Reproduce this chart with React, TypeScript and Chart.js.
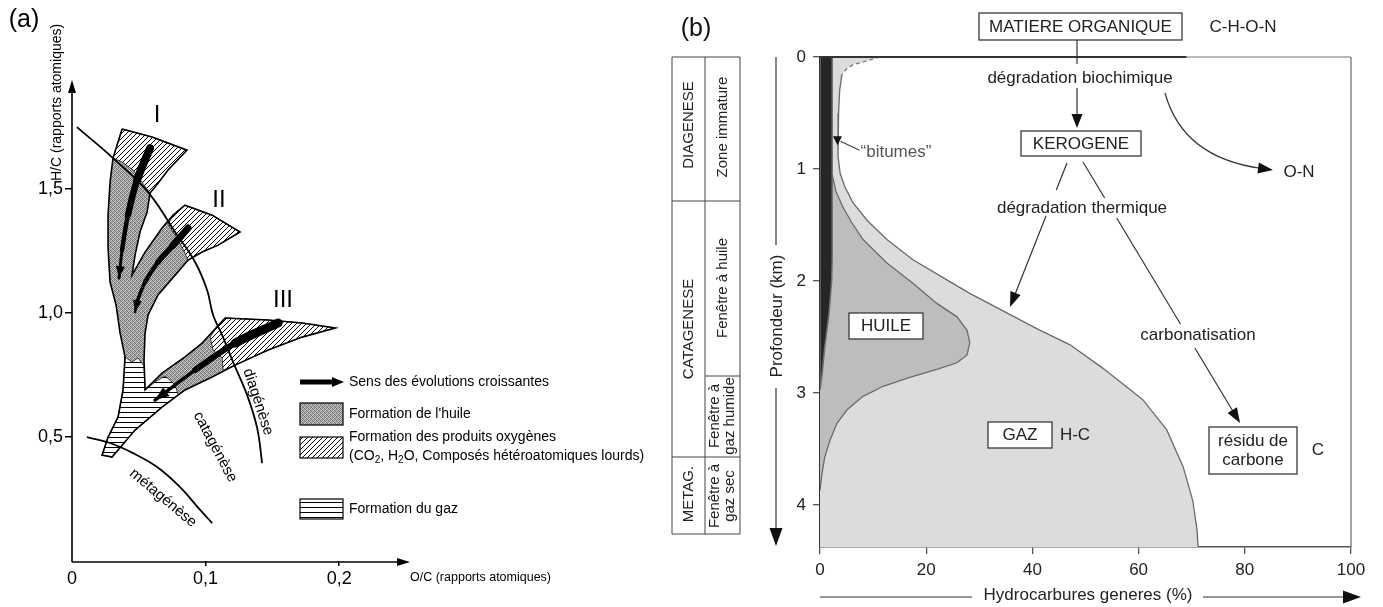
import React, { useEffect, useRef } from 'react';
import { Chart, registerables } from 'chart.js';

Chart.register(...registerables);

const FONT = "'Liberation Sans', Arial, Helvetica, sans-serif";
const PAGE_W = 1383;
const PAGE_H = 607;

/* ---------------- Panel (a) : H/C vs O/C ---------------- */
const ocTickValues = [0, 0.1, 0.2];
const ocTickLabels = ['0', '0,1', '0,2'];
const hcTickValues = [0.5, 1.0, 1.5];
const hcTickLabels = ['0,5', '1,0', '1,5'];
const ocAxisMax = 0.253;
const hcAxisMax = 1.94;

// whole kerogen domain (types I, II, III + common stem), [O/C, H/C]
const kerogenBands = [
  [0.0375, 1.742], [0.0599, 1.710], [0.0861, 1.657], [0.0719, 1.577], [0.0622, 1.508], [0.0584, 1.484],
  [0.0562, 1.407], [0.0509, 1.327], [0.0472, 1.234], [0.0449, 1.153], [0.0547, 1.246], [0.0674, 1.343],
  [0.0757, 1.395], [0.0846, 1.435], [0.1049, 1.395], [0.1258, 1.327], [0.1094, 1.274], [0.0974, 1.246],
  [0.0869, 1.214], [0.0772, 1.153], [0.0644, 1.073], [0.0569, 0.992], [0.0547, 0.919], [0.0539, 0.810],
  [0.0547, 0.690], [0.0674, 0.758], [0.0846, 0.823], [0.0974, 0.879], [0.1146, 0.980], [0.1468, 0.972],
  [0.1723, 0.960], [0.1970, 0.940], [0.1723, 0.903], [0.1468, 0.851], [0.1221, 0.790], [0.1049, 0.742],
  [0.0846, 0.690], [0.0674, 0.621], [0.0472, 0.528], [0.0300, 0.419], [0.0225, 0.427], [0.0270, 0.500],
  [0.0345, 0.581], [0.0382, 0.690], [0.0397, 0.823], [0.0360, 0.919], [0.0330, 1.032], [0.0285, 1.125],
  [0.0270, 1.262], [0.0270, 1.395], [0.0285, 1.528], [0.0307, 1.625], [0.0337, 1.677],
];
const oxygenCapI = [
  [0.0375, 1.742], [0.0599, 1.710], [0.0861, 1.657], [0.0719, 1.577], [0.0622, 1.508], [0.0584, 1.484],
  [0.0524, 1.528], [0.0457, 1.577], [0.0375, 1.609], [0.0307, 1.625], [0.0337, 1.677],
];
const oxygenCapII = [
  [0.0846, 1.435], [0.1049, 1.395], [0.1258, 1.327], [0.1094, 1.274], [0.0974, 1.246], [0.0869, 1.214],
  [0.0831, 1.258], [0.0779, 1.310], [0.0719, 1.357], [0.0757, 1.395],
];
const oxygenCapIII = [
  [0.1146, 0.980], [0.1468, 0.972], [0.1723, 0.960], [0.1970, 0.940], [0.1723, 0.903], [0.1468, 0.851],
  [0.1221, 0.790], [0.1131, 0.770], [0.1124, 0.819], [0.1056, 0.851], [0.1034, 0.903], [0.1086, 0.944],
];
const gasZone = [
  [0.0397, 0.823], [0.0449, 0.802], [0.0494, 0.819], [0.0539, 0.786], [0.0547, 0.690], [0.0622, 0.722],
  [0.0697, 0.746], [0.0772, 0.710], [0.0794, 0.669], [0.0674, 0.621], [0.0472, 0.528], [0.0300, 0.419],
  [0.0225, 0.427], [0.0270, 0.500], [0.0345, 0.581], [0.0382, 0.690],
];
const evolutionI = [[0.0584, 1.665], [0.0487, 1.536], [0.0419, 1.395], [0.0375, 1.254], [0.0352, 1.141]];
const evolutionII = [[0.0869, 1.343], [0.0757, 1.274], [0.0644, 1.206], [0.0547, 1.125], [0.0487, 1.044], [0.0472, 1.004]];
const evolutionIII = [[0.1543, 0.960], [0.1221, 0.879], [0.0921, 0.770], [0.0622, 0.649]];
const diagenesisLimit = [
  [0.0037, 1.750], [0.0307, 1.625], [0.0569, 1.488], [0.0772, 1.327], [0.0921, 1.206], [0.1011, 1.093],
  [0.1056, 0.992], [0.1124, 0.911], [0.1206, 0.802], [0.1311, 0.669], [0.1386, 0.536], [0.1423, 0.395],
];
const metagenesisLimit = [
  [0.0112, 0.500], [0.0285, 0.476], [0.0457, 0.435], [0.0637, 0.379], [0.0809, 0.298], [0.0959, 0.206], [0.1049, 0.153],
];

/* ---------------- Panel (b) : hydrocarbures vs profondeur ---------------- */
const depthTickValues = [0, 1, 2, 3, 4];
const percentTickValues = [0, 20, 40, 60, 80, 100];
const depthAxisMax = 4.375;
// [% hydrocarbures, profondeur km]
const bitumenTopDashed = [[11.3, 0], [6.2, 0.07], [5.1, 0.1], [4.1, 0.16]];
const totalHydrocarbons = [
  [4.1, 0.16], [3.7, 0.3], [3.5, 0.5], [3.4, 0.7], [3.4, 0.89], [3.8, 1.04], [4.7, 1.16], [6.2, 1.3],
  [8.9, 1.46], [12.6, 1.63], [17.5, 1.81], [23.9, 1.99], [28.2, 2.11], [35, 2.28], [41, 2.43], [47.1, 2.57],
  [53.3, 2.78], [60.8, 3.06], [65.3, 3.33], [68.4, 3.66], [70.2, 3.96], [71.0, 4.22], [71.2, 4.375],
];
const oilCurve = [
  [2.3, 1.05], [3.0, 1.2], [4.3, 1.34], [6.0, 1.48], [8.1, 1.63], [12.6, 1.84], [17.5, 2.02], [22.0, 2.2],
  [25.8, 2.32], [27.7, 2.44], [28.2, 2.55], [27.7, 2.66], [25.8, 2.73], [22.0, 2.79], [16.9, 2.86],
  [11.9, 2.94], [8.1, 3.03], [5.1, 3.15], [3.2, 3.27], [1.9, 3.42], [0.9, 3.57], [0.4, 3.71], [0, 3.87],
];
const bitumenBand = [[0, 0], [2.3, 0], [2.3, 1.0], [2.3, 1.8], [2.2, 2.0], [1.7, 2.29], [0.9, 2.59], [0.3, 2.88], [0, 2.97]];

/* ---------------- helpers ---------------- */
const pts = (a: number[][]) => a.map(([x, y]) => ({ x, y }));
const closed = (a: number[][]) => pts([...a, a[0]]);

function makeStipple(): CanvasPattern {
  const c = document.createElement('canvas');
  c.width = 4; c.height = 4;
  const g = c.getContext('2d')!;
  const lv = [[105, 185, 135, 200], [175, 120, 210, 145], [140, 215, 100, 180], [205, 145, 170, 115]];
  lv.forEach((row, y) => row.forEach((v, x) => { g.fillStyle = `rgb(${v},${v},${v})`; g.fillRect(x, y, 1, 1); }));
  return g.createPattern(c, 'repeat')!;
}
function makeHatch(): CanvasPattern {
  const s = 5;
  const c = document.createElement('canvas');
  c.width = s; c.height = s;
  const g = c.getContext('2d')!;
  g.fillStyle = '#fff'; g.fillRect(0, 0, s, s);
  g.strokeStyle = '#000'; g.lineWidth = 1;
  g.beginPath();
  g.moveTo(-1, s + 1); g.lineTo(s + 1, -1);
  g.moveTo(-1, 1); g.lineTo(1, -1);
  g.moveTo(s - 1, s + 1); g.lineTo(s + 1, s - 1);
  g.stroke();
  return g.createPattern(c, 'repeat')!;
}
function makeHoriz(): CanvasPattern {
  const c = document.createElement('canvas');
  c.width = 6; c.height = 5;
  const g = c.getContext('2d')!;
  g.fillStyle = '#fff'; g.fillRect(0, 0, 6, 5);
  g.fillStyle = '#000'; g.fillRect(0, 2, 6, 1);
  return g.createPattern(c, 'repeat')!;
}

function head(ctx: CanvasRenderingContext2D, fx: number, fy: number, tx: number, ty: number, len: number, half: number, color = '#000') {
  const a = Math.atan2(ty - fy, tx - fx);
  const bx = tx - len * Math.cos(a), by = ty - len * Math.sin(a);
  ctx.save();
  ctx.fillStyle = color;
  ctx.beginPath();
  ctx.moveTo(tx, ty);
  ctx.lineTo(bx + half * Math.sin(a), by - half * Math.cos(a));
  ctx.lineTo(bx - half * Math.sin(a), by + half * Math.cos(a));
  ctx.closePath();
  ctx.fill();
  ctx.restore();
}
function txt(ctx: CanvasRenderingContext2D, s: string, x: number, y: number, size: number, o: any = {}) {
  ctx.save();
  ctx.translate(x, y);
  if (o.rot) ctx.rotate(o.rot);
  ctx.font = `${size}px ${FONT}`;
  ctx.fillStyle = o.color || '#000';
  ctx.textAlign = o.align || 'center';
  ctx.textBaseline = 'middle';
  ctx.fillText(s, 0, 0);
  ctx.restore();
}
function seg(ctx: CanvasRenderingContext2D, x1: number, y1: number, x2: number, y2: number, color = '#000', w = 1) {
  ctx.save();
  ctx.strokeStyle = color; ctx.lineWidth = w;
  ctx.beginPath(); ctx.moveTo(x1, y1); ctx.lineTo(x2, y2); ctx.stroke();
  ctx.restore();
}
function boxed(ctx: CanvasRenderingContext2D, x1: number, y1: number, x2: number, y2: number) {
  ctx.save();
  ctx.fillStyle = '#fff';
  ctx.fillRect(x1, y1, x2 - x1, y2 - y1);
  ctx.strokeStyle = '#3a3a3a'; ctx.lineWidth = 1.3;
  ctx.strokeRect(x1, y1, x2 - x1, y2 - y1);
  ctx.restore();
}
function lineGaps(ctx: CanvasRenderingContext2D, x1: number, y1: number, x2: number, y2: number, ranges: number[][], color: string, w: number) {
  const xAt = (y: number) => x1 + (y - y1) * (x2 - x1) / (y2 - y1);
  ranges.forEach(([a, b]) => seg(ctx, xAt(a), a, xAt(b), b, color, w));
}

export default function App() {
  const refA = useRef<HTMLCanvasElement>(null);
  const refB = useRef<HTMLCanvasElement>(null);

  useEffect(() => {
    document.body.style.margin = '0';
    const stipple = makeStipple();
    const hatch = makeHatch();
    const horiz = makeHoriz();

    const arrowWidths: Record<string, number[]> = {
      I: [8, 6.5, 4.5, 3],
      II: [7, 5.5, 4.5, 3.5, 2.5],
      III: [9, 6, 3.5],
    };

    const panelA = {
      id: 'panelA',
      afterDatasetsDraw(chart: any) {
        const ctx = chart.ctx;
        chart.data.datasets.forEach((ds: any, i: number) => {
          if (!ds.arrowHead) return;
          const p = chart.getDatasetMeta(i).data;
          const a = p[p.length - 2], b = p[p.length - 1];
          head(ctx, a.x, a.y, b.x, b.y, ds.arrowHead[0], ds.arrowHead[1]);
        });
      },
      afterDraw(chart: any) {
        const ctx = chart.ctx;
        const xs = chart.scales.x, ys = chart.scales.y;
        const x0 = xs.getPixelForValue(0);
        const y0 = ys.getPixelForValue(0) + 1;
        const yTop = ys.getPixelForValue(hcAxisMax);
        const xRight = xs.getPixelForValue(ocAxisMax);
        // axes with arrows
        seg(ctx, x0, y0, x0, yTop + 8, '#000', 1.6);
        head(ctx, x0, y0, x0, yTop, 13, 4);
        seg(ctx, x0, y0, xRight - 8, y0, '#000', 1.6);
        head(ctx, x0, y0, xRight, y0, 13, 4);
        // titles
        txt(ctx, '(a)', 24, 20, 25);
        txt(ctx, 'H/C (rapports atomiques)', 57, 181, 14, { rot: -Math.PI / 2, align: 'left' });
        txt(ctx, 'O/C (rapports atomiques)', 410, 578, 12.5, { align: 'left' });
        // kerogen types
        txt(ctx, 'I', 157, 115, 24);
        txt(ctx, 'II', 219, 200, 24);
        txt(ctx, 'III', 283, 300, 24);
        // stages
        txt(ctx, 'diagénèse', 258, 402, 15, { rot: (72 * Math.PI) / 180 });
        txt(ctx, 'catagénèse', 215, 447, 15, { rot: (62 * Math.PI) / 180 });
        txt(ctx, 'métagénèse', 163, 498, 15, { rot: (40 * Math.PI) / 180 });
        // legend
        ctx.save();
        ctx.fillStyle = '#000';
        ctx.fillRect(300, 379.5, 35, 5);
        ctx.restore();
        head(ctx, 300, 382, 344, 382, 12, 5);
        txt(ctx, 'Sens des évolutions croissantes', 349, 382, 14, { align: 'left' });
        const legendBox = (y1: number, y2: number, pat: any) => {
          ctx.save();
          ctx.fillStyle = pat;
          ctx.fillRect(300, y1, 43, y2 - y1);
          ctx.strokeStyle = '#000'; ctx.lineWidth = 1.2;
          ctx.strokeRect(300, y1, 43, y2 - y1);
          ctx.restore();
        };
        legendBox(403, 425, stipple);
        txt(ctx, "Formation de l'huile", 349, 414, 14, { align: 'left' });
        legendBox(437, 458, hatch);
        txt(ctx, 'Formation des produits oxygènes', 349, 437, 14, { align: 'left' });
        // second line with subscripts
        ctx.save();
        ctx.fillStyle = '#000';
        ctx.textBaseline = 'middle';
        ctx.textAlign = 'left';
        let cx = 349;
        const runs: [string, boolean][] = [['(CO', false], ['2', true], [', H', false], ['2', true], ['O, Composés hétéroatomiques lourds)', false]];
        runs.forEach(([s, sub]) => {
          ctx.font = `${sub ? 10 : 14}px ${FONT}`;
          ctx.fillText(s, cx, sub ? 460 : 456);
          cx += ctx.measureText(s).width;
        });
        ctx.restore();
        legendBox(499, 519, horiz);
        txt(ctx, 'Formation du gaz', 349, 509, 14, { align: 'left' });
      },
    };

    const chartA = new Chart(refA.current!, {
      type: 'line',
      data: {
        datasets: [
          { data: closed(kerogenBands), fill: 'shape', backgroundColor: stipple, borderColor: 'rgba(0,0,0,0)', borderWidth: 0, order: 10 },
          { data: closed(oxygenCapI), fill: 'shape', backgroundColor: hatch, borderColor: '#000', borderWidth: 0.7, order: 9 },
          { data: closed(oxygenCapII), fill: 'shape', backgroundColor: hatch, borderColor: '#000', borderWidth: 0.7, order: 9 },
          { data: closed(oxygenCapIII), fill: 'shape', backgroundColor: hatch, borderColor: '#000', borderWidth: 0.7, order: 9 },
          { data: closed(gasZone), fill: 'shape', backgroundColor: horiz, borderColor: '#000', borderWidth: 0.7, order: 9 },
          { data: closed(kerogenBands), fill: false, borderColor: '#000', borderWidth: 1.6, order: 8 },
          { data: pts(diagenesisLimit), fill: false, borderColor: '#000', borderWidth: 1.8, tension: 0.4, order: 3 },
          { data: pts(metagenesisLimit), fill: false, borderColor: '#000', borderWidth: 1.8, tension: 0.4, order: 3 },
          {
            data: pts(evolutionI), fill: false, borderColor: '#000', borderWidth: 8, tension: 0.3, borderCapStyle: 'round', order: 1,
            segment: { borderWidth: (c: any) => arrowWidths.I[c.p0DataIndex] }, arrowHead: [12, 4.5],
          },
          {
            data: pts(evolutionII), fill: false, borderColor: '#000', borderWidth: 7, tension: 0.3, borderCapStyle: 'round', order: 1,
            segment: { borderWidth: (c: any) => arrowWidths.II[c.p0DataIndex] }, arrowHead: [12, 4.5],
          },
          {
            data: pts(evolutionIII), fill: false, borderColor: '#000', borderWidth: 9, tension: 0.3, borderCapStyle: 'round', order: 1,
            segment: { borderWidth: (c: any) => arrowWidths.III[c.p0DataIndex] }, arrowHead: [14, 5.5],
          },
        ] as any,
      },
      options: {
        responsive: false,
        animation: false,
        events: [],
        layout: { padding: { left: 32, right: PAGE_W - 410, top: 80, bottom: 16 } },
        elements: { point: { radius: 0 }, line: { tension: 0 } },
        plugins: { legend: { display: false }, tooltip: { enabled: false } },
        scales: {
          x: {
            type: 'linear', min: 0, max: ocAxisMax,
            afterBuildTicks: (s: any) => { s.ticks = ocTickValues.map((v) => ({ value: v })); },
            afterFit: (s: any) => { s.height = 30; },
            ticks: {
              callback: (v: any) => ocTickLabels[ocTickValues.indexOf(v)] ?? '',
              font: { family: FONT, size: 18 }, color: '#000', padding: 2, maxRotation: 0, autoSkip: false,
            },
            grid: {
              drawOnChartArea: false, drawTicks: true, tickLength: 5, lineWidth: 1.5,
              color: (c: any) => (c.tick && c.tick.value === 0 ? 'rgba(0,0,0,0)' : '#000'),
            },
            border: { display: false },
          },
          y: {
            type: 'linear', min: 0, max: hcAxisMax,
            afterBuildTicks: (s: any) => { s.ticks = hcTickValues.map((v) => ({ value: v })); },
            afterFit: (s: any) => { s.width = 40; },
            ticks: {
              callback: (v: any) => hcTickLabels[hcTickValues.indexOf(v)] ?? '',
              font: { family: FONT, size: 18 }, color: '#000', padding: 2, autoSkip: false,
            },
            grid: { drawOnChartArea: false, drawTicks: true, tickLength: 7, lineWidth: 1.5, color: '#000' },
            border: { display: false },
          },
        },
      } as any,
      plugins: [panelA as any],
    });

    const panelB = {
      id: 'panelB',
      afterDraw(chart: any) {
        const ctx = chart.ctx;
        const { left, right, top, bottom } = chart.chartArea;
        const xs = chart.scales.x, ys = chart.scales.y;
        // frame
        seg(ctx, left, top, right, top, '#777', 1);
        seg(ctx, left, top, xs.getPixelForValue(69), top, '#333', 2);
        seg(ctx, right, top, right, bottom, '#666', 1.2);

        // bitumes pointer
        const bx = xs.getPixelForValue(3.3), by = ys.getPixelForValue(0.77);
        seg(ctx, bx + 3, by - 2, bx + 22, by + 7, '#444', 1.2);
        head(ctx, bx, by - 9, bx, by + 2, 9, 4.5, '#111');
        txt(ctx, '“bitumes”', bx + 23, by + 9, 17, { align: 'left', color: '#555' });

        // table
        const tl = 672, tm = 705, tr = 740;
        const rows = [57, 201, 457, 534];
        [tl, tm, tr].forEach((x) => seg(ctx, x, 57, x, 534, '#444', 1));
        rows.forEach((y) => seg(ctx, tl, y, tr, y, '#444', 1));
        seg(ctx, tm, 376, tr, 376, '#444', 1);
        const R = -Math.PI / 2;
        const c1 = (tl + tm) / 2, c2 = (tm + tr) / 2;
        txt(ctx, 'DIAGENESE', c1, 125, 15, { rot: R, color: '#222' });
        txt(ctx, 'Zone immature', c2, 127, 15, { rot: R, color: '#222' });
        txt(ctx, 'CATAGENESE', c1, 329, 15, { rot: R, color: '#222' });
        txt(ctx, 'Fenêtre à huile', c2, 288, 15, { rot: R, color: '#222' });
        txt(ctx, 'Fenêtre à', c2 - 7.5, 416, 15, { rot: R, color: '#222' });
        txt(ctx, 'gaz humide', c2 + 7.5, 416, 15, { rot: R, color: '#222' });
        txt(ctx, 'METAG.', c1, 494, 15, { rot: R, color: '#222' });
        txt(ctx, 'Fenêtre à', c2 - 7.5, 496, 15, { rot: R, color: '#222' });
        txt(ctx, 'gaz sec', c2 + 7.5, 496, 15, { rot: R, color: '#222' });
        txt(ctx, '(b)', 696, 29, 25, { color: '#111' });

        // depth axis title
        seg(ctx, 776, 57, 776, 245, '#333', 1.2);
        txt(ctx, 'Profondeur (km)', 777, 316, 17, { rot: R, color: '#222' });
        seg(ctx, 776, 388, 776, 532, '#333', 1.2);
        head(ctx, 776, 500, 776, 546, 18, 6.5, '#111');

        // x axis title
        seg(ctx, left, 597, 972, 597, '#333', 1.2);
        txt(ctx, 'Hydrocarbures generes (%)', 1088, 595, 17, { color: '#222' });
        seg(ctx, 1203, 597, 1346, 597, '#333', 1.2);
        head(ctx, 1200, 597, 1361, 597, 18, 6.5, '#111');

        // process diagram
        boxed(ctx, 979, 13, 1182, 40);
        txt(ctx, 'MATIERE ORGANIQUE', 1080.5, 27, 17, { color: '#222' });
        txt(ctx, 'C-H-O-N', 1243, 27, 17, { color: '#222' });
        seg(ctx, 1077, 40, 1077, 64, '#333', 1.2);
        txt(ctx, 'dégradation biochimique', 1080, 78, 17, { color: '#222' });
        seg(ctx, 1077, 88, 1077, 118, '#333', 1.2);
        head(ctx, 1077, 100, 1077, 128, 14, 5.5, '#111');
        // curved arrow to O-N
        ctx.save();
        ctx.strokeStyle = '#333'; ctx.lineWidth = 1.2;
        ctx.beginPath(); ctx.moveTo(1165, 93); ctx.quadraticCurveTo(1183, 158, 1262, 168.5); ctx.stroke();
        ctx.restore();
        head(ctx, 1183, 158, 1273, 170, 15, 5.5, '#111');
        txt(ctx, 'O-N', 1299, 172, 17, { color: '#222' });

        boxed(ctx, 1021, 131, 1141, 156);
        txt(ctx, 'KEROGENE', 1081, 144, 17, { color: '#222' });
        txt(ctx, 'dégradation thermique', 1082, 208, 17, { color: '#222' });
        lineGaps(ctx, 1067, 163, 1010, 307, [[163, 190], [216, 296]], '#333', 1.2);
        head(ctx, 1067, 163, 1010, 307, 15, 5.5, '#111');
        lineGaps(ctx, 1083, 162, 1240, 423, [[162, 198], [218, 324], [348, 412]], '#333', 1.2);
        head(ctx, 1083, 162, 1240, 423, 15, 5.5, '#111');
        txt(ctx, 'carbonatisation', 1198, 335, 17, { color: '#222' });

        boxed(ctx, 1209, 427, 1297, 474);
        txt(ctx, 'résidu de', 1253, 441, 17, { color: '#222' });
        txt(ctx, 'carbone', 1253, 460, 17, { color: '#222' });
        txt(ctx, 'C', 1318, 450, 17, { color: '#222' });

        boxed(ctx, 849, 313, 923, 339);
        txt(ctx, 'HUILE', 886, 326, 17, { color: '#222' });
        boxed(ctx, 988, 422, 1052, 448);
        txt(ctx, 'GAZ', 1020, 435, 17, { color: '#222' });
        txt(ctx, 'H-C', 1075, 435, 17, { color: '#222' });
      },
    };

    const envelope = [...bitumenTopDashed, ...totalHydrocarbons.slice(1), [0, depthAxisMax], [0, 0]];
    const oilZone = [...oilCurve, [0, 1.05]];

    const chartB = new Chart(refB.current!, {
      type: 'line',
      data: {
        datasets: [
          { data: closed(envelope), fill: 'shape', backgroundColor: '#dcdcdc', borderColor: 'rgba(0,0,0,0)', borderWidth: 0, order: 10 },
          { data: closed(oilZone), fill: 'shape', backgroundColor: '#bdbdbd', borderColor: 'rgba(0,0,0,0)', borderWidth: 0, order: 9 },
          { data: closed(bitumenBand), fill: 'shape', backgroundColor: '#262626', borderColor: '#707070', borderWidth: 1.5, order: 8 },
          { data: pts(totalHydrocarbons), fill: false, borderColor: '#6a6a6a', borderWidth: 1.3, order: 5 },
          { data: pts(bitumenTopDashed), fill: false, borderColor: '#777', borderWidth: 1.3, borderDash: [4, 3], order: 5 },
          { data: pts(oilCurve), fill: false, borderColor: '#6a6a6a', borderWidth: 1.3, order: 5 },
        ] as any,
      },
      options: {
        responsive: false,
        animation: false,
        events: [],
        layout: { padding: { left: 790, right: PAGE_W - 1351, top: 57, bottom: 25 } },
        elements: { point: { radius: 0 }, line: { tension: 0 } },
        plugins: { legend: { display: false }, tooltip: { enabled: false } },
        scales: {
          x: {
            type: 'linear', min: 0, max: 100,
            afterBuildTicks: (s: any) => { s.ticks = percentTickValues.map((v) => ({ value: v })); },
            afterFit: (s: any) => { s.height = 35; },
            ticks: { font: { family: FONT, size: 17 }, color: '#222', padding: 6, maxRotation: 0, autoSkip: false },
            grid: { drawOnChartArea: false, drawTicks: true, tickLength: 7, lineWidth: 1.3, color: '#555' },
            border: { display: true, color: '#555', width: 1.5 },
          },
          y: {
            type: 'linear', min: 0, max: depthAxisMax, reverse: true,
            afterBuildTicks: (s: any) => { s.ticks = depthTickValues.map((v) => ({ value: v })); },
            afterFit: (s: any) => { s.width = 30; },
            ticks: { font: { family: FONT, size: 17 }, color: '#222', padding: 7, autoSkip: false },
            grid: { drawOnChartArea: false, drawTicks: true, tickLength: 7, lineWidth: 1.3, color: '#555' },
            border: { display: true, color: '#333', width: 1.5 },
          },
        },
      } as any,
      plugins: [panelB as any],
    });

    return () => {
      chartA.destroy();
      chartB.destroy();
    };
  }, []);

  return (
    <div style={{ position: 'relative', width: PAGE_W, height: PAGE_H, background: '#fff', overflow: 'hidden' }}>
      <canvas ref={refA} width={PAGE_W} height={PAGE_H} style={{ position: 'absolute', left: 0, top: 0 }} />
      <canvas ref={refB} width={PAGE_W} height={PAGE_H} style={{ position: 'absolute', left: 0, top: 0 }} />
    </div>
  );
}
